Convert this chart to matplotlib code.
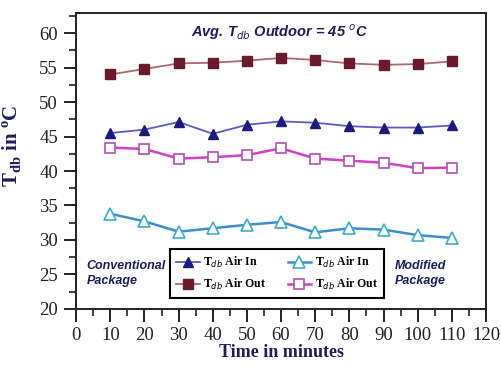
import matplotlib.pyplot as plt
from matplotlib.ticker import MultipleLocator

# Dry-bulb temperatures over time
time_min = [10, 20, 30, 40, 50, 60, 70, 80, 90, 100, 110]
conv_air_in = [45.5, 46.0, 47.1, 45.4, 46.7, 47.2, 47.0, 46.5, 46.3, 46.3, 46.6]
conv_air_out = [54.0, 54.8, 55.6, 55.7, 56.0, 56.4, 56.1, 55.6, 55.4, 55.5, 55.9]
mod_air_in = [33.8, 32.7, 31.2, 31.7, 32.2, 32.6, 31.1, 31.7, 31.5, 30.7, 30.3]
mod_air_out = [43.4, 43.2, 41.8, 42.0, 42.3, 43.3, 41.8, 41.5, 41.2, 40.4, 40.5]

navy = "#1c1c5e"

fig = plt.figure(figsize=(5.01, 3.74), dpi=100)
ax = fig.add_axes([0.152, 0.174, 0.818, 0.791])

l1, = ax.plot(time_min, conv_air_in, color="#5a5ac8", lw=1.3, marker="^",
              ms=7, mfc="#1a1a80", mec="#1a1a80", label=r"T$_{db}$ Air In")
l2, = ax.plot(time_min, conv_air_out, color="#b06870", lw=1.3, marker="s",
              ms=6.5, mfc="#6a1a2a", mec="#6a1a2a", label=r"T$_{db}$ Air Out")
l3, = ax.plot(time_min, mod_air_in, color="#3a8fd0", lw=1.8, marker="^",
              ms=8, mfc="white", mec="#3aaed0", mew=1.2, label=r"T$_{db}$ Air In")
l4, = ax.plot(time_min, mod_air_out, color="#d040c8", lw=1.8, marker="s",
              ms=7, mfc="white", mec="#b050b0", mew=1.2, label=r"T$_{db}$ Air Out")

ax.set_xlim(0, 120)
ax.set_ylim(20, 62.9)
ax.xaxis.set_major_locator(MultipleLocator(10))
ax.xaxis.set_minor_locator(MultipleLocator(5))
ax.yaxis.set_major_locator(MultipleLocator(5))
ax.yaxis.set_minor_locator(MultipleLocator(2.5))

ax.tick_params(which="major", direction="out", length=9, width=1.4,
               labelsize=13.5, pad=4, color="#222222")
ax.tick_params(which="minor", direction="out", length=5, width=1.2,
               color="#222222")
for lab in ax.get_xticklabels() + ax.get_yticklabels():
    lab.set_fontfamily("Liberation Serif")
    lab.set_color("#222222")
for sp in ax.spines.values():
    sp.set_linewidth(1.4)
    sp.set_color("#222222")

ax.set_xlabel("Time in minutes", fontfamily="Liberation Serif",
              fontweight="bold", fontsize=13, color=navy, labelpad=0)
ax.set_ylabel(r"T$_{\mathregular{db}}$ in $^{\mathregular{o}}$C",
              fontfamily="Liberation Serif", fontweight="bold", fontsize=15,
              color=navy, labelpad=2)
ax.yaxis.set_label_coords(-0.13, 0.55)

ax.text(0.497, 0.935, r"Avg. T$_{db}$ Outdoor = 45 $^{o}$C", transform=ax.transAxes,
        ha="center", va="center", fontfamily="Liberation Sans", fontsize=10.5,
        fontweight="bold", fontstyle="italic", color=navy)
ax.text(0.025, 0.12, "Conventional\nPackage", transform=ax.transAxes,
        ha="left", va="center", fontfamily="Liberation Sans", fontsize=9,
        fontweight="bold", fontstyle="italic", color=navy, linespacing=1.3)
ax.text(0.778, 0.12, "Modified\nPackage", transform=ax.transAxes,
        ha="left", va="center", fontfamily="Liberation Sans", fontsize=9,
        fontweight="bold", fontstyle="italic", color=navy, linespacing=1.3)

leg = ax.legend(handles=[l1, l2, l3, l4], ncol=2, loc="center",
                bbox_to_anchor=(0.49, 0.12), fancybox=False, framealpha=1,
                edgecolor="black", handlelength=2.0, handletextpad=0.3,
                columnspacing=1.8, borderpad=0.5, labelspacing=0.6,
                prop={"family": "Liberation Serif", "weight": "bold", "size": 8.5})
leg.get_frame().set_linewidth(1.5)

fig.savefig("out.png", dpi=100)
